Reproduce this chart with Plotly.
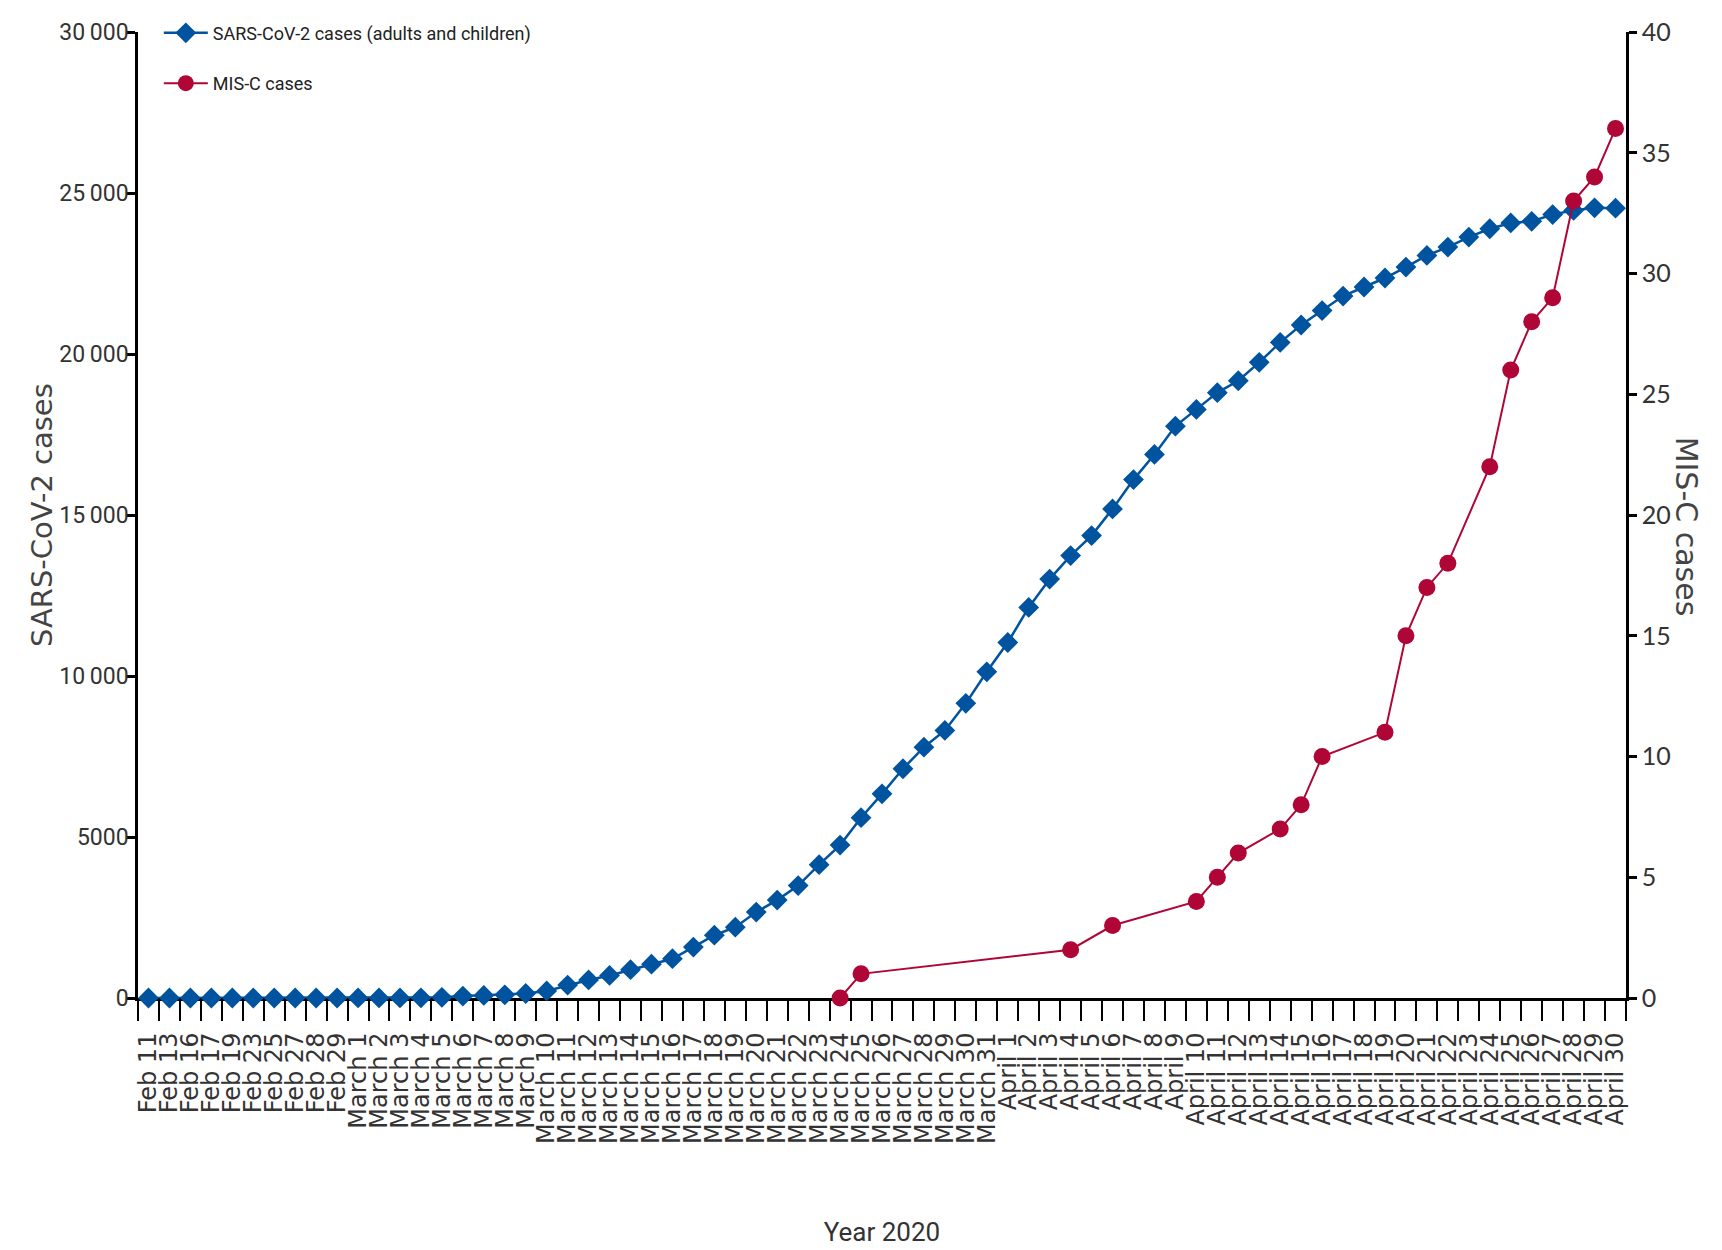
import plotly.graph_objects as go

# ---------------- data ----------------
dates = [
    "Feb 11", "Feb 13", "Feb 16", "Feb 17", "Feb 19", "Feb 23", "Feb 25", "Feb 27", "Feb 28", "Feb 29",
    "March 1", "March 2", "March 3", "March 4", "March 5", "March 6", "March 7", "March 8", "March 9",
    "March 10", "March 11", "March 12", "March 13", "March 14", "March 15", "March 16", "March 17",
    "March 18", "March 19", "March 20", "March 21", "March 22", "March 23", "March 24", "March 25",
    "March 26", "March 27", "March 28", "March 29", "March 30", "March 31",
    "April 1", "April 2", "April 3", "April 4", "April 5", "April 6", "April 7", "April 8", "April 9",
    "April 10", "April 11", "April 12", "April 13", "April 14", "April 15", "April 16", "April 17",
    "April 18", "April 19", "April 20", "April 21", "April 22", "April 23", "April 24", "April 25",
    "April 26", "April 27", "April 28", "April 29", "April 30",
]

sars_cases = [
    0, 0, 0, 0, 0, 0, 0, 0, 0, 0,                      # Feb
    1, 1, 2, 5, 20, 60, 80, 100, 140,                  # March 1-9
    220, 400, 560, 700, 880, 1050, 1220, 1580,         # March 10-17
    1950, 2200, 2670, 3040, 3490, 4140, 4750, 5600,    # March 18-25
    6340, 7120, 7790, 8310, 9150, 10130,               # March 26-31
    11040, 12130, 13010, 13740, 14360, 15190, 16100, 16880, 17760,   # April 1-9
    18280, 18800, 19170, 19740, 20360, 20900, 21350, 21800,          # April 10-17
    22080, 22360, 22700, 23060, 23320, 23630, 23890, 24070,          # April 18-25
    24120, 24330, 24460, 24540, 24530,                               # April 26-30
]

misc_dates = [
    "March 24", "March 25", "April 4", "April 6", "April 10", "April 11", "April 12",
    "April 14", "April 15", "April 16", "April 19", "April 20", "April 21", "April 22",
    "April 24", "April 25", "April 26", "April 27", "April 28", "April 29", "April 30",
]
misc_cases = [0, 1, 2, 3, 4, 5, 6, 7, 8, 10, 11, 15, 17, 18, 22, 26, 28, 29, 33, 34, 36]

left_tickvals = [0, 5000, 10000, 15000, 20000, 25000, 30000]
left_ticktext = ["0", "5000", "10\u2009000", "15\u2009000", "20\u2009000", "25\u2009000", "30\u2009000"]
right_tickvals = [0, 5, 10, 15, 20, 25, 30, 35, 40]

# ---------------- styles ----------------
BLUE = "#00539f"
RED = "#b00537"
NARROW = "Liberation Sans Narrow, Roboto, Liberation Sans, sans-serif"
TXT = "#333333"

fig = go.Figure()
fig.add_trace(go.Scatter(
    x=dates, y=sars_cases, mode="lines+markers",
    name="SARS-CoV-2 cases (adults and children)",
    line=dict(color=BLUE, width=2.5),
    marker=dict(symbol="diamond", size=16, color=BLUE),
    cliponaxis=False, legendgroup="a",
))
fig.add_trace(go.Scatter(
    x=misc_dates, y=misc_cases, yaxis="y2", mode="lines+markers",
    name="MIS-C cases",
    line=dict(color=RED, width=2),
    marker=dict(symbol="circle", size=17, color=RED),
    cliponaxis=False, legendgroup="b",
))

fig.update_layout(
    width=1722, height=1250,
    margin=dict(l=138, r=96, t=32, b=252, pad=0),
    paper_bgcolor="white", plot_bgcolor="white",
    showlegend=True,
    legend=dict(
        x=0.014, y=1.018, xanchor="left", yanchor="top",
        font=dict(family=NARROW, size=18, color="#222222"),
        itemwidth=44, tracegroupgap=24, bgcolor="rgba(0,0,0,0)",
    ),
    xaxis=dict(
        type="category", categoryorder="array", categoryarray=dates,
        range=[-0.5, len(dates) - 0.5],
        tickmode="linear", tick0=0, dtick=1, tickson="boundaries",
        ticks="outside", ticklen=20, tickwidth=2, tickcolor="black",
        ticklabelstandoff=22,
        showline=True, linecolor="black", linewidth=3,
        showgrid=False, zeroline=False, layer="below traces",
        tickangle=-90,
        tickfont=dict(family="DejaVu Sans, Verdana, sans-serif", size=24, color=TXT),
        title=dict(text="Year 2020", font=dict(family=NARROW, size=26, color=TXT), standoff=80),
        automargin=False,
    ),
    yaxis=dict(
        range=[0, 30000], tickmode="array", tickvals=left_tickvals, ticktext=left_ticktext,
        ticks="outside", ticklen=8, tickwidth=3, tickcolor="black",
        ticklabelstandoff=-6,
        showline=True, linecolor="black", linewidth=2.5,
        showgrid=False, zeroline=False, layer="below traces",
        tickfont=dict(family=NARROW, size=23, color=TXT),
        automargin=False,
    ),
    yaxis2=dict(
        overlaying="y", side="right",
        range=[0, 40], tickmode="array", tickvals=right_tickvals,
        ticks="outside", ticklen=8, tickwidth=3, tickcolor="black",
        showline=True, linecolor="black", linewidth=2.5,
        showgrid=False, zeroline=False, layer="below traces",
        tickfont=dict(family="Lato, Open Sans, sans-serif", size=25, color=TXT),
        automargin=False,
    ),
    annotations=[
        dict(text="SARS-CoV-2 cases", xref="paper", yref="paper",
             x=-0.0645, y=0.50, xanchor="center", yanchor="middle",
             textangle=-90, showarrow=False,
             font=dict(family="DejaVu Sans, Open Sans, sans-serif", size=29, color="#444444")),
        dict(text="MIS-C cases", xref="paper", yref="paper",
             x=1.0403, y=0.488, xanchor="center", yanchor="middle",
             textangle=90, showarrow=False,
             font=dict(family="DejaVu Sans, Open Sans, sans-serif", size=30, color="#444444")),
    ],
)

fig.write_html("out.html")
